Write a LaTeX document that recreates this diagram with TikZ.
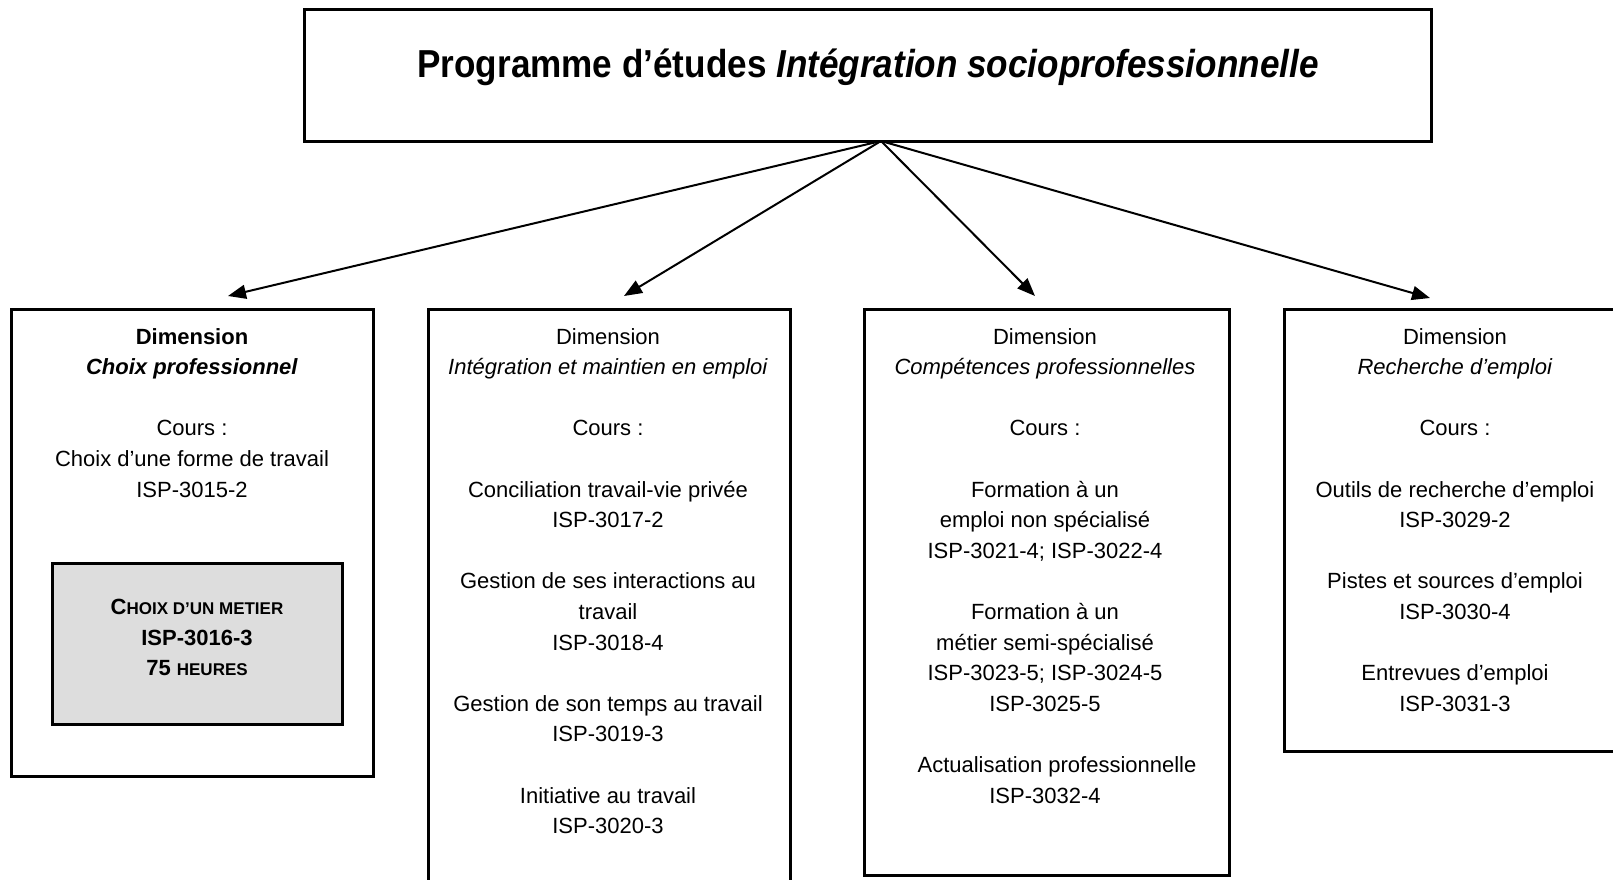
\documentclass[tikz,border=0pt]{standalone}
\usepackage{fontspec}
\setmainfont{Liberation Sans}
\newfontfamily\titlefont[FakeStretch=0.9]{Liberation Sans}
\usetikzlibrary{arrows.meta}
\definecolor{innergray}{RGB}{221,221,221}
\begin{document}
\begin{tikzpicture}[x=1pt,y=-1pt,
  box/.style={draw, line width=3pt, rectangle, inner sep=0pt},
  txt/.style={anchor=north, align=center, inner sep=0pt, font=\fontsize{22}{30.6}\selectfont},
  arr/.style={line width=2pt, -{Triangle[length=18pt,width=14pt]}}]
\useasboundingbox (0,0) rectangle (1613,880);
\clip (0,0) rectangle (1613,880);
% top box
\node[box, minimum width=1127pt, minimum height=131pt] (top) at (867.5,75.5) {};
\node[anchor=base, inner sep=0pt, font=\titlefont\bfseries\fontsize{39}{40}\selectfont] (title) at (868,78)
  {Programme d’études \textit{Intégration socioprofessionnelle}};
% dimension boxes
\node[box, minimum width=362pt, minimum height=467pt] (b1) at (192,542.5) {};
\node[box, minimum width=362pt, minimum height=600pt] (b2) at (609,609) {};
\node[box, minimum width=365pt, minimum height=566pt] (b3) at (1046.5,592) {};
\node[box, minimum width=356pt, minimum height=442pt] (b4) at (1462,530) {};
\node[box, fill=innergray, minimum width=290pt, minimum height=161pt] (inner) at (197,643.5) {};
% texts
\node[txt] (t1) at (192,328) {\textbf{Dimension}\\\textbf{\textit{Choix professionnel}}\\[30.6pt]Cours :\\Choix d’une forme de travail\\ISP-3015-2};
\node[txt, font=\bfseries\fontsize{22}{30.6}\selectfont] (ti) at (197,599) {C{\fontsize{17}{30.6}\selectfont HOIX D’UN METIER}\\ISP-3016-3\\75 {\fontsize{17}{30.6}\selectfont HEURES}};
\node[txt] (t2) at (608,328) {Dimension\\\textit{Intégration et maintien en emploi}\\[30.6pt]Cours :\\[30.6pt]Conciliation travail-vie privée\\ISP-3017-2\\[30.6pt]Gestion de ses interactions au\\travail\\ISP-3018-4\\[30.6pt]Gestion de son temps au travail\\ISP-3019-3\\[30.6pt]Initiative au travail\\ISP-3020-3};
\node[txt] (t3) at (1045,328) {Dimension\\\textit{Compétences professionnelles}\\[30.6pt]Cours :\\[30.6pt]Formation à un\\emploi non spécialisé\\ISP-3021-4; ISP-3022-4\\[30.6pt]Formation à un\\métier semi-spécialisé\\ISP-3023-5; ISP-3024-5\\ISP-3025-5\\[30.6pt]\hspace*{24pt}Actualisation professionnelle\\ISP-3032-4};
\node[txt] (t4) at (1455,328) {Dimension\\\textit{Recherche d’emploi}\\[30.6pt]Cours :\\[30.6pt]Outils de recherche d’emploi\\ISP-3029-2\\[30.6pt]Pistes et sources d’emploi\\ISP-3030-4\\[30.6pt]Entrevues d’emploi\\ISP-3031-3};
% arrows
\coordinate (o) at (881,141);
\coordinate (e1) at (228,296);
\coordinate (e2) at (624,296);
\coordinate (e3) at (1035,296);
\coordinate (e4) at (1430,298);
\draw[arr] (o) -- (e1);
\draw[arr] (o) -- (e2);
\draw[arr] (o) -- (e3);
\draw[arr] (o) -- (e4);
\end{tikzpicture}
\end{document}
